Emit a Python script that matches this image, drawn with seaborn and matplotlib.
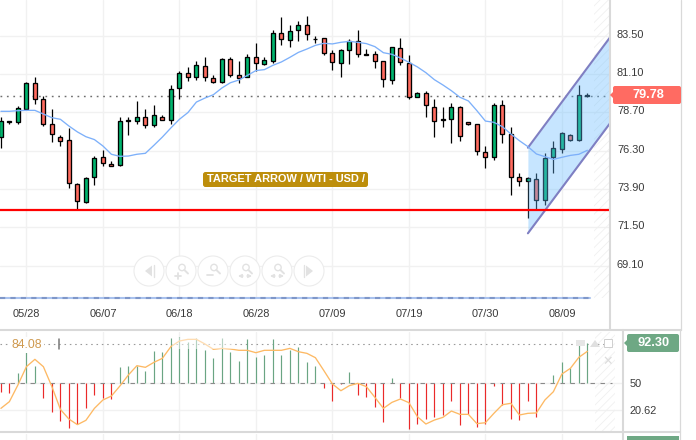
import matplotlib
matplotlib.use("Agg")
import matplotlib.pyplot as plt
import seaborn as sns
import numpy as np
from matplotlib.patches import Circle, FancyBboxPatch, Polygon, Rectangle
from matplotlib.transforms import ScaledTranslation

# daily candles
highs = [78.38, 78.15, 79.07, 80.60, 80.89, 79.72, 78.88, 77.26, 77.70, 74.27,
         74.63, 75.94, 76.36, 75.63, 78.38, 78.43, 79.39, 78.93, 79.18, 78.51,
         80.39, 81.26, 81.51, 81.89, 82.14, 81.01, 82.10, 82.18, 81.93, 82.33,
         83.02, 82.14, 83.85, 84.64, 84.14, 84.39, 84.73, 83.48, 83.35, 82.60,
         82.68, 83.27, 83.85, 82.64, 82.56, 81.89, 82.77, 83.35, 82.31, 79.95,
         80.01, 79.55, 79.01, 79.26, 79.09, 78.11, 77.97, 76.59, 79.26, 79.47,
         77.80, 74.88, 74.67, 74.92, 76.17, 76.88, 77.44, 77.32, 80.39, 79.93]
tops = [78.13, 78.13, 78.95, 80.51, 80.51, 79.51, 77.95, 77.13, 76.94, 74.19,
        74.56, 75.82, 75.88, 75.46, 78.13, 78.22, 78.38, 78.38, 78.51, 78.38,
        80.14, 81.14, 81.14, 81.64, 81.58, 80.83, 82.02, 82.02, 81.01, 82.14,
        82.14, 81.95, 83.64, 83.64, 83.81, 84.14, 84.14, 83.31, 83.33, 82.39,
        82.58, 83.14, 83.14, 82.33, 82.33, 81.89, 82.77, 82.70, 81.76, 79.93,
        79.93, 79.05, 78.26, 79.01, 79.05, 78.07, 77.95, 76.23, 79.14, 79.14,
        77.32, 74.67, 74.56, 74.50, 75.82, 76.44, 77.38, 77.30, 79.80, 79.78]
bottoms = [77.13, 78.09, 78.11, 78.88, 79.51, 77.99, 77.36, 76.92, 74.25, 73.12,
           73.10, 74.63, 75.55, 75.36, 75.42, 78.18, 78.18, 77.92, 77.92, 78.24,
           78.24, 80.24, 80.93, 80.93, 80.93, 80.58, 80.58, 81.01, 80.87, 80.93,
           81.76, 81.70, 81.93, 83.27, 83.20, 83.83, 83.58, 83.27, 82.39, 81.83,
           81.81, 82.58, 82.33, 82.27, 81.89, 80.76, 80.70, 81.83, 79.64, 79.68,
           79.14, 78.13, 78.20, 78.26, 77.19, 77.95, 76.26, 75.88, 75.88, 77.32,
           74.63, 74.38, 74.38, 73.19, 73.19, 75.88, 76.38, 76.99, 76.99, 79.72]
lows = [76.48, 77.97, 77.99, 78.84, 79.24, 77.86, 76.86, 76.61, 73.98, 72.62,
        73.00, 74.17, 75.36, 75.36, 75.36, 77.30, 77.97, 77.74, 77.80, 78.24,
        77.97, 79.55, 80.68, 80.72, 80.68, 80.55, 80.55, 80.93, 80.51, 80.89,
        81.31, 81.66, 81.81, 82.93, 82.81, 83.18, 83.23, 83.02, 82.27, 81.35,
        80.93, 81.74, 82.18, 82.27, 81.49, 80.30, 80.47, 81.64, 79.55, 79.64,
        78.43, 77.17, 77.80, 76.80, 76.92, 77.88, 76.00, 75.19, 75.71, 76.80,
        73.50, 74.11, 72.06, 72.58, 72.92, 74.92, 76.17, 76.90, 76.90, 79.64]
is_up = [1, 0, 1, 1, 0, 0, 0, 0, 0, 0, 1, 1, 0, 0, 1, 1, 1, 0, 1, 0,
         1, 1, 0, 1, 0, 0, 1, 0, 0, 1, 0, 1, 1, 0, 1, 1, 0, 0, 0, 0,
         1, 1, 0, 0, 0, 0, 1, 0, 0, 1, 0, 0, 0, 1, 0, 0, 0, 0, 1, 0,
         0, 0, 1, 0, 1, 1, 1, 0, 1, 1]
moving_avg = [78.76, 78.76, 78.80, 78.82, 78.82, 78.59, 78.36, 78.26, 77.84, 77.47,
              77.17, 76.99, 76.59, 76.07, 75.94, 75.96, 76.07, 76.13, 76.63, 77.15,
              77.72, 78.26, 78.68, 79.34, 79.59, 79.80, 80.22, 80.55, 80.72, 81.01,
              81.31, 81.37, 81.64, 81.85, 82.14, 82.45, 82.66, 82.89, 83.02, 82.98,
              83.08, 83.14, 83.08, 83.00, 82.81, 82.43, 82.33, 82.10, 81.83, 81.54,
              81.18, 80.74, 80.41, 80.05, 79.64, 79.41, 78.80, 78.15, 78.07, 77.80,
              77.34, 76.92, 76.55, 76.09, 75.92, 75.75, 75.88, 76.00, 76.07, 76.32]
osc_bars = [40.9, 39.9, 60.9, 88.0, 68.8, 33.7, 19.2, 9.4, 1.8, 5.4,
            22.8, 37.3, 34.4, 33.3, 68.1, 68.8, 69.2, 63.8, 84.8, 83.7,
            98.9, 100.7, 95.3, 98.9, 85.9, 77.5, 98.9, 83.7, 73.9, 97.8,
            78.3, 80.4, 97.8, 80.4, 85.9, 89.1, 73.2, 68.8, 44.6, 30.4,
            49.3, 62.0, 37.3, 35.5, 23.9, 8.3, 55.4, 33.7, 0.0, 5.4,
            10.9, 13.0, 15.2, 31.2, 4.3, 16.3, 2.2, 6.2, 47.5, 26.4,
            10.9, 9.8, 31.2, 13.0, 50.0, 58.7, 72.8, 66.7, 93.5, 93.5]
osc_line = [22.8, 30.1, 48.2, 68.1, 76.1, 68.1, 46.4, 21.7, 11.2, 5.1,
            9.8, 22.8, 31.9, 36.2, 47.1, 59.1, 69.2, 67.4, 72.8, 77.2,
            89.9, 96.0, 97.8, 97.8, 92.8, 87.0, 88.0, 87.3, 85.9, 85.9,
            83.3, 85.9, 85.9, 85.9, 88.0, 84.4, 82.6, 77.9, 63.8, 49.3,
            42.0, 47.5, 50.0, 46.4, 34.8, 22.8, 29.3, 33.0, 29.0, 13.8,
            5.8, 10.1, 13.0, 19.9, 16.3, 16.3, 6.2, 7.2, 17.4, 26.8,
            28.3, 15.6, 17.4, 17.8, 31.9, 40.9, 60.1, 66.3, 78.3, 84.8]
price_ticks = [83.5, 81.1, 78.7, 76.3, 73.9, 71.5, 69.1]
date_labels = ["05/28", "06/07", "06/18", "06/28", "07/09", "07/19", "07/30", "08/09"]
date_pos = [3, 12, 21, 30, 39, 48, 57, 66]
support_level = 72.58
last_line = 79.74
last_price = 79.78
osc_last = 92.30
osc_mid = 50
channel_upper = [76.48, 83.39]
channel_lower = [71.12, 78.01]
channel_x = [62.0, 71.66]

GREEN = "#00b46e"
RED = "#ff6b5f"
GRID = "#f1f1f1"
PANEL = "#d9d9d9"
TXT = "#3a3a3a"

sns.set_style("white")
plt.rcParams["font.family"] = ["Liberation Sans", "DejaVu Sans"]
plt.rcParams["hatch.linewidth"] = 0.6

W, H = 696, 440
fig = plt.figure(figsize=(W / 100, H / 100), dpi=100)


def px_axes(x0, y0, x1, y1):
    return fig.add_axes([x0 / W, 1 - y1 / H, (x1 - x0) / W, (y1 - y0) / H])


idx = np.arange(len(highs))
up = np.array(is_up, dtype=bool)
colors = [GREEN if u else RED for u in up]

# price panel
ax = px_axes(0, 0, 610, 298)
ax.set_xlim(-0.106, 71.66)
ax.set_ylim(67.07, 85.73)
ax.set_axisbelow(True)
ax.grid(True, color=GRID, linewidth=1)
ax.vlines(idx, lows, highs, color="black", linewidth=0.9, zorder=3)
ax.bar(idx, np.array(tops) - np.array(bottoms), bottom=bottoms, width=0.47,
       color=colors, edgecolor="black", linewidth=0.95, zorder=4)
# the channel sits over the candles, the lines stay on top of it
ax.fill_between(channel_x, channel_lower, channel_upper, color="#66bbff",
                alpha=0.37, linewidth=0, zorder=5)
ax.plot(channel_x, channel_upper, color="#7f7fc2", linewidth=1.5, zorder=6)
ax.plot(channel_x, channel_lower, color="#7f7fc2", linewidth=1.5, zorder=6)
sns.lineplot(x=idx, y=moving_avg, ax=ax, color="#7db0fa", linewidth=0.95,
             estimator=None, zorder=7)
ax.axhline(support_level, color="#ff0000", linewidth=1.6, zorder=8)
ax.axhline(last_line, color="#6e6e6e", linewidth=1.05, linestyle=(0, (1.2, 3.2)), zorder=2)
ax.add_patch(Rectangle((69.78, 67.07), 1.88, 18.66, facecolor="none", edgecolor="#f0f0f0",
                       hatch="////", linewidth=0, zorder=1))
ax.set_xticks(date_pos)
ax.set_xticklabels(date_labels)
ax.set_yticks(price_ticks)
ax.set_yticklabels([f"{p:.2f}" for p in price_ticks])
ax.yaxis.tick_right()
ax.tick_params(axis="x", length=0, pad=8, labelsize=7.9, labelcolor=TXT)
ax.tick_params(axis="y", length=0, pad=5, labelsize=7.9, labelcolor=TXT)
for lab in ax.get_yticklabels():
    lab.set_transform(lab.get_transform() + ScaledTranslation(0, 1.3 / 72, fig.dpi_scale_trans))
ax.set_xlabel("")
ax.set_ylabel("")
sns.despine(ax=ax, left=True, bottom=True, right=True, top=True)

# oscillator panel
ax2 = px_axes(0, 332, 623, 431)
ax2.set_xlim(-0.106, 73.19)
ax2.set_ylim(-1.8, 105.8)
ax2.set_axisbelow(True)
ax2.grid(True, color=GRID, linewidth=1)
osc = np.array(osc_bars)
ax2.vlines(idx[osc >= osc_mid], osc_mid, osc[osc >= osc_mid], color="#6aa583", linewidth=0.85, zorder=3)
ax2.vlines(idx[osc < osc_mid], osc_mid, osc[osc < osc_mid], color="#ea2a2a", linewidth=0.85, zorder=3)
ax2.hlines(osc_mid, -0.106, 71.9, color="#8a8a8a", linewidth=0.8, linestyle=(0, (4, 5)), zorder=4)
ax2.hlines(osc_last, -0.106, 72.0, color="#9a9a9a", linewidth=0.8, linestyle=(0, (1.4, 3.4)), zorder=2)
sns.lineplot(x=idx, y=osc_line, ax=ax2, color="#fdb964", linewidth=0.95, estimator=None, zorder=5)
ax2.add_patch(Rectangle((69.9, -1.8), 2.35, 107.6, facecolor="none", edgecolor="#f0f0f0",
                        hatch="////", linewidth=0, zorder=1))
ax2.set_xticks(date_pos)
ax2.set_xticklabels([])
ax2.set_yticks([osc_mid, 20.62])
ax2.set_yticklabels(["50", "20.62"])
ax2.yaxis.tick_right()
ax2.tick_params(axis="both", length=0)
ax2.tick_params(axis="y", pad=5, labelsize=7.9, labelcolor=TXT)
ax2.set_xlabel("")
ax2.set_ylabel("")
sns.despine(ax=ax2, left=True, bottom=True, right=True, top=True)

# sliver of the next panel
ax3 = px_axes(0, 434, 623, 440)
ax3.set_xlim(-0.106, 73.19)
ax3.set_xticks(date_pos)
ax3.set_yticks([])
ax3.grid(True, axis="x", color=GRID, linewidth=1)
ax3.tick_params(axis="both", length=0, labelbottom=False)
sns.despine(ax=ax3, left=True, bottom=True, right=True, top=True)

# chrome in pixel coordinates: separators, tags, label, zoom buttons
over = fig.add_axes([0, 0, 1, 1], facecolor="none")
over.set_xlim(0, W)
over.set_ylim(H, 0)
over.axis("off")

over.plot([609.5, 609.5], [0, 330], color=PANEL, linewidth=1.5)
over.plot([0, 681], [330, 330], color=PANEL, linewidth=1.5)
over.plot([0, 680], [432, 432], color=PANEL, linewidth=1.5)
over.plot([623, 623], [330, 440], color=PANEL, linewidth=1.5)
over.plot([681, 681], [0, 330], color=PANEL, linewidth=0.9)
over.plot([680, 680], [330, 440], color=PANEL, linewidth=0.9)
over.plot([0, 590], [298, 298], color="#a9c2ee", linewidth=1.5)
over.plot([0, 590], [298, 298], color="#7f97c9", linewidth=1.5, linestyle=(0, (2.5, 2.5)))


def tag(x0, y0, x1, y1, color, label=None, size=9.2):
    over.add_patch(FancyBboxPatch((x0 + 1, y0 + 1), x1 - x0 - 2, y1 - y0 - 2,
                                  boxstyle="round,pad=1,rounding_size=2",
                                  facecolor=color, edgecolor="none", zorder=10))
    over.add_patch(Polygon([(x0, (y0 + y1) / 2 - 3), (x0 - 3, (y0 + y1) / 2), (x0, (y0 + y1) / 2 + 3)],
                           facecolor=color, edgecolor="none", zorder=10))
    if label:
        over.text((x0 + x1) / 2 + 1, (y0 + y1) / 2, label, color="white", fontsize=size,
                  fontweight="bold", ha="center", va="center", zorder=11)


tag(613, 86, 681, 104, "#ff6b62", f"{last_price:.2f}")
tag(627, 334, 679, 352, "#6ea884", f"{osc_last:.2f}")
over.add_patch(Rectangle((627, 436), 52, 4, facecolor="#6ea884", edgecolor="none", zorder=10))

over.add_patch(FancyBboxPatch((204, 173), 163, 13, boxstyle="round,pad=1,rounding_size=2.5",
                              facecolor="#bd8e0b", edgecolor="none", zorder=10))
over.text(285.5, 179.5, "TARGET ARROW / WTI - USD /", color="white", fontsize=7.9,
          fontweight="bold", ha="center", va="center", zorder=11)

over.text(27, 345, "84.08", color="#cf9a50", fontsize=8.9, ha="center", va="center",
          bbox=dict(facecolor="white", edgecolor="none", pad=1.5), zorder=6)
over.plot([58.7, 58.7], [339, 349], color="#777777", linewidth=1.1)

# faded legend strip over the oscillator peak
over.add_patch(Rectangle((172, 338), 62, 11, facecolor="white", edgecolor="none", alpha=0.5, zorder=6))

# little controls top right of the oscillator
over.add_patch(Rectangle((576, 340), 9, 6, facecolor="#e6e6e6", edgecolor="none", zorder=6))
over.add_patch(Polygon([(590, 347), (595, 340), (600, 347)], facecolor="#e0e0e0", edgecolor="none", zorder=6))
over.add_patch(Rectangle((604, 339), 8, 8, facecolor="white", edgecolor="#cfcfcf", linewidth=0.7, zorder=6))
over.text(608, 361, "✕", color="#dcdcdc", fontsize=9, fontweight="bold", ha="center", va="center",
          family="DejaVu Sans", zorder=6)

# zoom buttons
ICON = "#e2e2e2"
btn_x = [149, 181, 213, 245, 277, 309]
for bx in btn_x:
    over.add_patch(Circle((bx, 271), 15, facecolor="white", edgecolor="#ececec", linewidth=0.8, zorder=6))
over.add_patch(Polygon([(145, 271), (152, 265.5), (152, 276.5)], facecolor=ICON, edgecolor="none", zorder=7))
over.plot([154, 154], [265, 277], color=ICON, linewidth=1, zorder=7)
over.add_patch(Polygon([(313, 271), (306, 265.5), (306, 276.5)], facecolor=ICON, edgecolor="none", zorder=7))
over.plot([304, 304], [265, 277], color=ICON, linewidth=1, zorder=7)
for bx in btn_x[1:5]:
    over.add_patch(Circle((bx + 1, 267.5), 3.2, facecolor="none", edgecolor=ICON, linewidth=1, zorder=7))
    over.plot([bx + 3.4, bx + 7], [270, 273.5], color=ICON, linewidth=1.4, zorder=7)
over.plot([175, 181], [276, 276], color=ICON, linewidth=1.3, zorder=7)
over.plot([178, 178], [273, 279], color=ICON, linewidth=1.3, zorder=7)
over.plot([207, 213], [275, 275], color=ICON, linewidth=1.3, zorder=7)
for x0, x1 in [(238, 243), (252, 247), (270, 275), (284, 279)]:
    over.annotate("", xy=(x0, 276), xytext=(x1, 276), zorder=7,
                  arrowprops=dict(arrowstyle="-|>", color=ICON, linewidth=1, mutation_scale=5,
                                  shrinkA=0, shrinkB=0))

fig.savefig("out.png", dpi=100)
